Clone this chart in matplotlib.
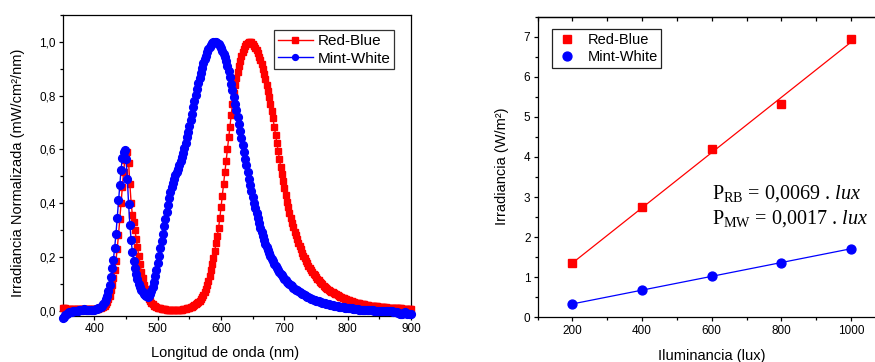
import numpy as np
import matplotlib
matplotlib.use("Agg")
import matplotlib.pyplot as plt
from matplotlib.ticker import MultipleLocator, FixedLocator, FixedFormatter

plt.rcParams['font.family'] = ['Liberation Sans', 'DejaVu Sans']
plt.rcParams['mathtext.fontset'] = 'custom'
plt.rcParams['mathtext.rm'] = 'Liberation Serif'
plt.rcParams['mathtext.it'] = 'Liberation Serif:italic'
plt.rcParams['mathtext.bf'] = 'Liberation Serif:bold'

# ---------------- Data: spectra (left panel) ----------------
wavelength = np.arange(350, 901, 2)  # 350 ... 900 nm, 2 nm grid

red_blue = [
    0.009, 0.008, 0.008, 0.007, 0.007, 0.007, 0.006, 0.006, 0.006, 0.005,   # 350-368
    0.005, 0.005, 0.005, 0.005, 0.005, 0.005, 0.005, 0.005, 0.005, 0.005,   # 370-388
    0.005, 0.005, 0.005, 0.005, 0.005, 0.005, 0.006, 0.006, 0.007, 0.008,   # 390-408
    0.010, 0.012, 0.015, 0.019, 0.025, 0.033, 0.043, 0.056, 0.075, 0.097,   # 410-428
    0.120, 0.150, 0.185, 0.230, 0.280, 0.340, 0.400, 0.460, 0.515, 0.560,   # 430-448
    0.585, 0.592, 0.550, 0.470, 0.400, 0.355, 0.330, 0.300, 0.268, 0.235,   # 450-468
    0.205, 0.175, 0.145, 0.120, 0.097, 0.080, 0.066, 0.054, 0.044, 0.036,   # 470-488
    0.029, 0.024, 0.019, 0.016, 0.013, 0.011, 0.009, 0.008, 0.007, 0.006,   # 490-508
    0.005, 0.005, 0.004, 0.004, 0.003, 0.003, 0.003, 0.003, 0.003, 0.003,   # 510-528
    0.003, 0.003, 0.003, 0.004, 0.004, 0.005, 0.006, 0.007, 0.008, 0.009,   # 530-548
    0.011, 0.013, 0.015, 0.018, 0.021, 0.024, 0.028, 0.031, 0.036, 0.042,   # 550-568
    0.049, 0.058, 0.068, 0.081, 0.096, 0.112, 0.130, 0.150, 0.172, 0.195,   # 570-588
    0.222, 0.250, 0.278, 0.308, 0.343, 0.385, 0.428, 0.472, 0.515, 0.558,   # 590-608
    0.602, 0.645, 0.685, 0.728, 0.770, 0.808, 0.838, 0.865, 0.889, 0.910,   # 610-628
    0.930, 0.947, 0.962, 0.975, 0.985, 0.992, 0.997, 1.000, 1.000, 0.998,   # 630-648
    0.993, 0.986, 0.978, 0.968, 0.957, 0.945, 0.932, 0.917, 0.900, 0.880,   # 650-668
    0.860, 0.840, 0.817, 0.793, 0.770, 0.744, 0.715, 0.685, 0.655, 0.625,   # 670-688
    0.595, 0.565, 0.536, 0.508, 0.481, 0.455, 0.430, 0.406, 0.384, 0.362,   # 690-708
    0.343, 0.326, 0.310, 0.294, 0.280, 0.266, 0.252, 0.240, 0.228, 0.216,   # 710-728
    0.205, 0.195, 0.185, 0.176, 0.167, 0.159, 0.151, 0.144, 0.137, 0.131,   # 730-748
    0.125, 0.119, 0.113, 0.108, 0.103, 0.098, 0.093, 0.088, 0.084, 0.080,   # 750-768
    0.077, 0.074, 0.071, 0.068, 0.066, 0.063, 0.060, 0.058, 0.055, 0.052,   # 770-788
    0.050, 0.048, 0.046, 0.044, 0.042, 0.040, 0.038, 0.036, 0.035, 0.033,   # 790-808
    0.031, 0.030, 0.029, 0.028, 0.027, 0.026, 0.025, 0.024, 0.023, 0.022,   # 810-828
    0.021, 0.020, 0.019, 0.018, 0.018, 0.017, 0.017, 0.016, 0.016, 0.015,   # 830-848
    0.014, 0.014, 0.013, 0.013, 0.012, 0.012, 0.011, 0.011, 0.010, 0.010,   # 850-868
    0.010, 0.009, 0.009, 0.009, 0.008, 0.008, 0.008, 0.008, 0.007, 0.007,   # 870-888
    0.007, 0.007, 0.007, 0.007, 0.006, 0.006,                               # 890-900
]

mint_white = [
    -0.026, -0.022, -0.017, -0.013, -0.010, -0.007, -0.005, -0.004, -0.003, -0.002,  # 350-368
    -0.002, -0.001, 0.000, 0.001, 0.002, 0.003, 0.004, 0.006, 0.004, 0.003,         # 370-388
    0.002, 0.002, 0.003, 0.003, 0.004, 0.004, 0.005, 0.006, 0.008, 0.010,           # 390-408
    0.014, 0.018, 0.024, 0.032, 0.042, 0.055, 0.073, 0.097, 0.125, 0.157,           # 410-428
    0.190, 0.234, 0.285, 0.345, 0.410, 0.468, 0.523, 0.567, 0.590, 0.597,           # 430-448
    0.565, 0.490, 0.395, 0.320, 0.262, 0.218, 0.185, 0.158, 0.135, 0.116,           # 450-468
    0.100, 0.087, 0.077, 0.068, 0.062, 0.057, 0.053, 0.052, 0.054, 0.060,           # 470-488
    0.072, 0.088, 0.107, 0.128, 0.152, 0.178, 0.205, 0.232, 0.260, 0.286,           # 490-508
    0.313, 0.340, 0.367, 0.393, 0.418, 0.440, 0.460, 0.476, 0.490, 0.503,           # 510-528
    0.515, 0.528, 0.542, 0.556, 0.571, 0.587, 0.605, 0.625, 0.645, 0.666,           # 530-548
    0.688, 0.710, 0.733, 0.757, 0.780, 0.803, 0.825, 0.846, 0.866, 0.885,           # 550-568
    0.903, 0.920, 0.935, 0.949, 0.961, 0.972, 0.981, 0.988, 0.994, 0.998,           # 570-588
    1.000, 1.000, 0.997, 0.992, 0.985, 0.977, 0.967, 0.955, 0.942, 0.927,           # 590-608
    0.910, 0.890, 0.868, 0.845, 0.820, 0.795, 0.770, 0.745, 0.719, 0.693,           # 610-628
    0.667, 0.641, 0.615, 0.590, 0.565, 0.540, 0.515, 0.491, 0.467, 0.444,           # 630-648
    0.422, 0.401, 0.381, 0.362, 0.343, 0.326, 0.309, 0.293, 0.277, 0.263,           # 650-668
    0.249, 0.237, 0.225, 0.213, 0.203, 0.193, 0.183, 0.175, 0.167, 0.159,           # 670-688
    0.152, 0.145, 0.138, 0.131, 0.125, 0.119, 0.114, 0.108, 0.103, 0.099,           # 690-708
    0.094, 0.090, 0.086, 0.082, 0.078, 0.075, 0.072, 0.068, 0.065, 0.062,           # 710-728
    0.060, 0.057, 0.054, 0.052, 0.050, 0.047, 0.045, 0.043, 0.041, 0.039,           # 730-748
    0.037, 0.036, 0.034, 0.033, 0.031, 0.030, 0.028, 0.027, 0.026, 0.025,           # 750-768
    0.023, 0.022, 0.021, 0.020, 0.019, 0.018, 0.017, 0.016, 0.015, 0.014,           # 770-788
    0.013, 0.013, 0.012, 0.011, 0.010, 0.010, 0.009, 0.008, 0.008, 0.007,           # 790-808
    0.006, 0.006, 0.005, 0.005, 0.004, 0.004, 0.004, 0.003, 0.003, 0.003,           # 810-828
    0.002, 0.002, 0.002, 0.001, 0.001, 0.001, 0.000, 0.000, 0.000, 0.000,           # 830-848
    -0.001, -0.001, -0.001, -0.001, -0.002, -0.002, -0.002, -0.002, -0.003, -0.003,  # 850-868
    -0.003, -0.004, -0.004, -0.005, -0.006, -0.008, -0.011, -0.014, -0.012, -0.008,  # 870-888
    -0.007, -0.010, -0.013, -0.011, -0.012, -0.014,                                # 890-900
]

spec_xticks = [400, 500, 600, 700, 800, 900]
spec_yticks = [0.0, 0.2, 0.4, 0.6, 0.8, 1.0]
spec_yticklabels = ['0,0', '0,2', '0,4', '0,6', '0,8', '1,0']

# ---------------- Data: irradiance vs illuminance (right panel) ----------------
illuminance = [200, 400, 600, 800, 1000]
irr_red_blue = [1.35, 2.74, 4.20, 5.31, 6.95]
irr_mint_white = [0.33, 0.68, 1.03, 1.36, 1.71]
lux_xticks = [200, 400, 600, 800, 1000]
irr_yticks = [0, 1, 2, 3, 4, 5, 6, 7]

series_names = ['Red-Blue', 'Mint-White']
eq_labels = [r'P$_{\rm RB}$ = 0,0069 . $\it{lux}$',
             r'P$_{\rm MW}$ = 0,0017 . $\it{lux}$']

RED = '#ff0000'
BLUE = '#0000ff'

fig = plt.figure(figsize=(8.75, 3.62), dpi=100)

# ---------------- Left panel ----------------
ax1 = fig.add_axes([0.0717, 0.1271, 0.3981, 0.8315])
ax1.plot(wavelength, red_blue, color=RED, marker='s', ms=5.0, lw=1.0,
         mec=RED, mfc=RED, label=series_names[0], clip_on=False, zorder=3)
ax1.plot(wavelength, mint_white, color=BLUE, marker='o', ms=5.6, lw=1.0,
         mec=BLUE, mfc=BLUE, label=series_names[1], clip_on=False, zorder=4)
ax1.set_xlim(350, 900)
ax1.set_ylim(-0.02, 1.1)
ax1.xaxis.set_major_locator(FixedLocator(spec_xticks))
ax1.xaxis.set_minor_locator(MultipleLocator(50))
ax1.yaxis.set_major_locator(FixedLocator(spec_yticks))
ax1.yaxis.set_major_formatter(FixedFormatter(spec_yticklabels))
ax1.yaxis.set_minor_locator(MultipleLocator(0.1))
ax1.tick_params(which='major', direction='out', length=3.2, width=0.9,
                labelsize=8.5, pad=2)
ax1.tick_params(which='minor', direction='out', length=2.0, width=0.9)
for s in ax1.spines.values():
    s.set_linewidth(0.9)
leg1 = ax1.legend(loc='upper right', bbox_to_anchor=(0.951, 0.950),
                  borderaxespad=0, fontsize=11, numpoints=1, fancybox=False,
                  handlelength=2.3, handletextpad=0.3, labelspacing=0.25,
                  borderpad=0.25, framealpha=1, markerscale=0.75)
leg1.get_frame().set_edgecolor('#333333')
leg1.get_frame().set_linewidth(0.9)

fig.text(225.5 / 875, 1 - 353 / 362, 'Longitud de onda (nm)',
         ha='center', va='center', fontsize=10.5)
fig.text(18 / 875, 1 - 172.5 / 362, 'Irradiancia Normalizada (mW/cm²/nm)',
         ha='center', va='center', rotation=90, fontsize=10.5)

# ---------------- Right panel ----------------
ax2 = fig.add_axes([0.6145, 0.1235, 0.3978, 0.8304])
fit_rb = np.polyfit(illuminance, irr_red_blue, 1)
fit_mw = np.polyfit(illuminance, irr_mint_white, 1)
xfit = np.array([illuminance[0], illuminance[-1]])
ax2.plot(xfit, np.polyval(fit_rb, xfit), color=RED, lw=0.9, zorder=2)
ax2.plot(xfit, np.polyval(fit_mw, xfit), color=BLUE, lw=0.9, zorder=2)
ax2.plot(illuminance, irr_red_blue, ls='none', marker='s', ms=5.4, color=RED,
         label=series_names[0], zorder=3)
ax2.plot(illuminance, irr_mint_white, ls='none', marker='o', ms=6.4, color=BLUE,
         label=series_names[1], zorder=3)
ax2.set_xlim(100, 1100)
ax2.set_ylim(0, 7.5)
ax2.xaxis.set_major_locator(FixedLocator(lux_xticks))
ax2.xaxis.set_minor_locator(MultipleLocator(100))
ax2.yaxis.set_major_locator(FixedLocator(irr_yticks))
ax2.yaxis.set_minor_locator(MultipleLocator(0.5))
ax2.tick_params(which='major', direction='out', length=3.2, width=0.9,
                labelsize=8.5, pad=2)
ax2.tick_params(which='minor', direction='out', length=2.0, width=0.9)
for s in ax2.spines.values():
    s.set_linewidth(0.9)
top = ax2.secondary_xaxis('top')
top.xaxis.set_major_locator(MultipleLocator(100))
top.tick_params(direction='in', length=3.0, width=0.9, labeltop=False)
top.spines['top'].set_linewidth(0.9)

leg2 = ax2.legend(loc='upper left', bbox_to_anchor=(0.0402, 0.959),
                  borderaxespad=0, fontsize=10.5, numpoints=1, fancybox=False,
                  handlelength=1.6, handletextpad=0.6, labelspacing=0.25,
                  borderpad=0.25, framealpha=1)
leg2.get_frame().set_edgecolor('#222222')
leg2.get_frame().set_linewidth(0.9)

fig.text(501.7 / 875, 1 - 166.5 / 362, 'Irradiancia (W/m²)',
         ha='center', va='center', rotation=90, fontsize=10.5)
fig.text(712 / 875, 1 - 356 / 362, 'Iluminancia (lux)',
         ha='center', va='center', fontsize=10.5)

fig.text(711.7 / 875, 1 - 198.3 / 362, eq_labels[0], ha='left', va='baseline',
         fontsize=14.5, family='Liberation Serif')
fig.text(711.7 / 875, 1 - 223.3 / 362, eq_labels[1], ha='left', va='baseline',
         fontsize=14.5, family='Liberation Serif')

fig.savefig('out.png', dpi=100)
